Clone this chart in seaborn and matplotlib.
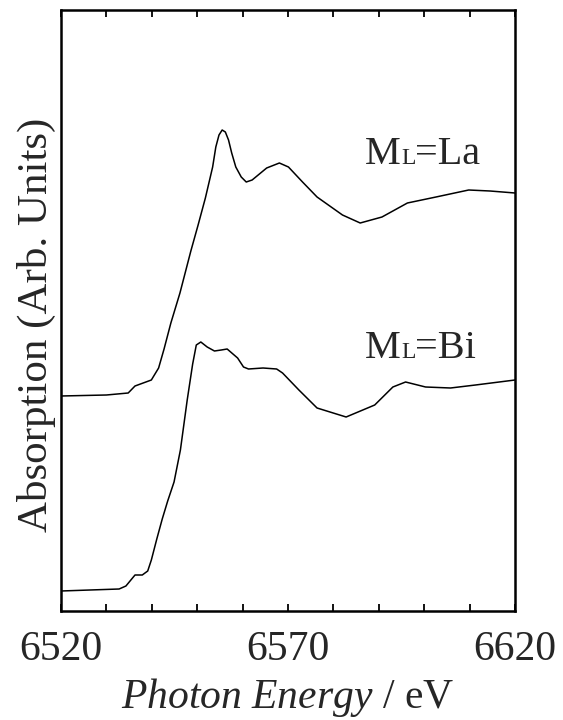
import matplotlib
matplotlib.use("Agg")
import matplotlib.pyplot as plt
import seaborn as sns
import pandas as pd

# ---- data (energy in eV, absorption in arb. units) ----
la_energy = [6520.0, 6530.0, 6534.8, 6536.3, 6539.9, 6541.5, 6542.7, 6544.2, 6546.2,
             6547.4, 6548.6, 6550.2, 6551.8, 6553.4, 6554.1, 6554.8, 6555.5, 6556.2,
             6556.9, 6557.6, 6558.5, 6559.7, 6560.8, 6562.1, 6565.3, 6568.1, 6570.1,
             6573.2, 6576.4, 6582.0, 6585.9, 6590.7, 6596.3, 6602.6, 6609.8, 6614.5,
             6620.0]
la_absorb = [2.15, 2.16, 2.18, 2.25, 2.31, 2.43, 2.62, 2.88, 3.18,
             3.39, 3.60, 3.86, 4.13, 4.44, 4.64, 4.76, 4.81, 4.79,
             4.71, 4.58, 4.44, 4.34, 4.29, 4.31, 4.43, 4.48, 4.44,
             4.29, 4.14, 3.96, 3.88, 3.94, 4.08, 4.14, 4.21, 4.20,
             4.18]

bi_energy = [6520.0, 6532.8, 6534.3, 6536.3, 6537.9, 6539.1, 6539.9, 6541.1, 6542.3,
             6543.5, 6544.9, 6546.3, 6547.8, 6549.0, 6549.8, 6550.8, 6552.2, 6553.8,
             6555.3, 6556.6, 6558.9, 6560.2, 6561.3, 6564.5, 6567.5, 6568.8, 6572.4,
             6576.4, 6582.8, 6589.1, 6593.1, 6595.9, 6600.3, 6605.8, 6611.3, 6620.0]
bi_absorb = [0.20, 0.22, 0.25, 0.36, 0.36, 0.40, 0.51, 0.72, 0.92,
             1.10, 1.29, 1.61, 2.11, 2.47, 2.66, 2.69, 2.64, 2.60,
             2.61, 2.62, 2.53, 2.44, 2.42, 2.43, 2.42, 2.38, 2.21,
             2.03, 1.94, 2.06, 2.24, 2.29, 2.24, 2.23, 2.26, 2.31]

x_ticks = [6520, 6530, 6540, 6550, 6560, 6570, 6580, 6590, 6600, 6610, 6620]
x_tick_labels = ["6520", "", "", "", "", "6570", "", "", "", "", "6620"]

sns.set_style("ticks")
plt.rcParams["font.family"] = ["Liberation Serif", "DejaVu Serif"]
plt.rcParams["mathtext.fontset"] = "custom"
plt.rcParams["mathtext.rm"] = "Liberation Serif"
plt.rcParams["mathtext.it"] = "Liberation Serif:italic"

fig = plt.figure(figsize=(5.63, 7.2), dpi=100)
ax = fig.add_axes([61 / 563, 1 - 611 / 720, 454 / 563, 601 / 720])

df_la = pd.DataFrame({"E": la_energy, "A": la_absorb})
df_bi = pd.DataFrame({"E": bi_energy, "A": bi_absorb})
sns.lineplot(data=df_la, x="E", y="A", ax=ax, color="black", lw=1.1, sort=False,
             estimator=None)
sns.lineplot(data=df_bi, x="E", y="A", ax=ax, color="black", lw=1.1, sort=False,
             estimator=None)

ax.set_xlim(6520, 6620)
ax.set_ylim(0, 6.01)
ax.set_xticks(x_ticks)
ax.set_xticklabels(x_tick_labels)
ax.set_yticks([])
ax.tick_params(axis="x", direction="in", top=True, bottom=True, length=5,
               width=1.3, labelsize=30, pad=14, color="black")
for s in ax.spines.values():
    s.set_linewidth(1.8)
    s.set_color("black")
ax.set_xlabel("")
ax.set_ylabel("")

# curve labels (M + small-cap L + "=X")
def label(xm, y, rest):
    ax.text(xm, y, "M", fontsize=29, ha="left", va="baseline")
    ax.text(xm + 7.9, y, "L", fontsize=17, ha="left", va="baseline")
    ax.text(xm + 11.0, y, rest, fontsize=29, ha="left", va="baseline")

label(6587.0, 4.47, "=La")
label(6587.0, 2.53, "=Bi")

fig.text(36 / 563, 1 - 325 / 720, "Absorption (Arb. Units)", rotation=90,
         ha="center", va="center", fontsize=31)
fig.text(288 / 563, 1 - 708 / 720, r"$\mathit{Photon\ Energy}$ / eV",
         ha="center", va="baseline", fontsize=30)

fig.savefig("out.png", dpi=100)
